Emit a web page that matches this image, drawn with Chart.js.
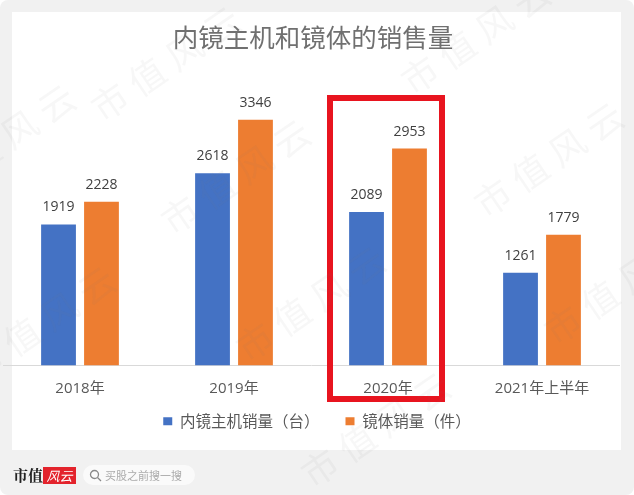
<!DOCTYPE html>
<html>
<head>
<meta charset="utf-8">
<script src="https://cdn.jsdelivr.net/npm/chart.js@4"></script>
<style>
  html, body { margin: 0; padding: 0; background: #fff; overflow: hidden; }
  #page { position: relative; width: 634px; height: 495px; background: #f1f1f1; border-radius: 8px; overflow: hidden; font-family: "Noto Sans CJK SC", sans-serif; }
  #card { position: absolute; left: 12px; top: 12px; width: 609px; height: 438px; background: #fff; }
  #wrap { position: absolute; left: 0; top: 0; width: 634px; height: 495px; }
  #logo { position: absolute; left: 13px; top: 465px; font: bold 15px "Noto Serif CJK SC", "Noto Sans CJK SC", serif; color: #222; line-height: 20px; }
  #badge { position: absolute; left: 43px; top: 467px; width: 33px; height: 17px; background: #e3232c; color: #fff; font: italic 13px/17px "Noto Sans CJK SC", sans-serif; text-align: center; }
  #search { position: absolute; left: 83px; top: 465px; width: 112px; height: 20px; background: #fafafa; border-radius: 10px; color: #aaa; font-size: 11px; line-height: 20px; text-indent: 22px; }
  #search svg { position: absolute; left: 6px; top: 4px; }
</style>
</head>
<body>
<div id="page">
  <div id="card"></div>
  <div id="wrap"><canvas id="myChart" width="634" height="495"></canvas></div>
  <div id="logo">市值</div>
  <div id="badge">风云</div>
  <div id="search">
    <svg width="13" height="13" viewBox="0 0 13 13"><circle cx="5.5" cy="5.5" r="4" fill="none" stroke="#888" stroke-width="1.3"/><line x1="8.5" y1="8.5" x2="12" y2="12" stroke="#888" stroke-width="1.3"/></svg>
    买股之前搜一搜
  </div>
</div>
<script>
const categories = ['2018年', '2019年', '2020年', '2021年上半年'];
const bodySales = [1919, 2618, 2089, 1261];
const lensSales = [2228, 3346, 2953, 1779];
const seriesNames = ['内镜主机销量（台）', '镜体销量（件）'];
const chartTitle = '内镜主机和镜体的销售量';
const watermark = '市值风云';

const ctx = document.getElementById('myChart');

// numbers above the bars
const barLabels = {
  id: 'barLabels',
  afterDatasetsDraw(chart) {
    const c = chart.ctx;
    c.save();
    c.font = '14px "Open Sans", "Noto Sans", sans-serif';
    c.fillStyle = '#404040';
    c.textAlign = 'center';
    c.textBaseline = 'bottom';
    chart.data.datasets.forEach((ds, i) => {
      chart.getDatasetMeta(i).data.forEach((bar, j) => {
        c.fillText(ds.data[j], bar.x, bar.y - 10);
      });
    });
    c.restore();
  }
};

// title and legend sit a little off where the layout puts them
const nudge = {
  id: 'nudge',
  afterLayout(chart) {
    chart.titleBlock.left += 2;
    chart.titleBlock.right += 2;
    chart.legend.left += 6;
    chart.legend.right += 6;
    chart.legend.top -= 24;
    chart.legend.bottom -= 24;
  }
};

// red box round 2020 and the faint site watermark
const overlay = {
  id: 'overlay',
  afterDraw(chart) {
    const c = chart.ctx;
    const cx = chart.scales.x.getPixelForValue(2);
    c.save();
    c.strokeStyle = '#e8141f';
    c.lineWidth = 6;
    c.strokeRect(cx - 58, 98, 112, 301);
    c.restore();

    c.save();
    c.font = '36px "Noto Sans CJK SC"';
    c.letterSpacing = '9px';
    c.fillStyle = 'rgba(120,120,120,0.06)';
    c.textBaseline = 'middle';
    [[95, 112], [405, 85], [478, 208], [165, 225], [240, 352], [305, 478], [-30, 372], [548, 335], [-70, 190]].forEach(p => {
      c.save();
      c.translate(p[0], p[1]);
      c.rotate(-0.6);
      c.fillText(watermark, 0, 0);
      c.restore();
    });
    c.restore();
  }
};

new Chart(ctx, {
  type: 'bar',
  data: {
    labels: categories,
    datasets: [
      { label: seriesNames[0], data: bodySales, backgroundColor: '#4472c4' },
      { label: seriesNames[1], data: lensSales, backgroundColor: '#ed7d31' }
    ]
  },
  options: {
    responsive: false,
    animation: false,
    events: [],
    categoryPercentage: 0.558,
    barPercentage: 0.81,
    layout: { padding: { left: 3, right: 15, top: 0, bottom: 32 } },
    plugins: {
      title: {
        display: true,
        text: chartTitle,
        color: '#707070',
        font: { family: '"Noto Sans CJK SC"', size: 25.5, weight: 'normal' },
        padding: { top: 22, bottom: 19 }
      },
      legend: {
        position: 'bottom',
        labels: {
          usePointStyle: true,
          pointStyle: 'rect',
          pointStyleWidth: 9,
          boxHeight: 8,
          color: '#595959',
          font: { family: '"Noto Sans CJK SC"', size: 15.5 },
          padding: 26
        }
      },
      tooltip: { enabled: false }
    },
    scales: {
      x: {
        grid: { display: false, drawTicks: false },
        border: { color: '#d9d9d9', width: 1 },
        ticks: { color: '#595959', font: { family: '"Open Sans", "Noto Sans CJK SC"', size: 15 }, padding: 14, maxRotation: 0 }
      },
      y: {
        display: false,
        min: 0,
        max: 4000
      }
    }
  },
  plugins: [barLabels, nudge, overlay]
});
</script>
</body>
</html>
